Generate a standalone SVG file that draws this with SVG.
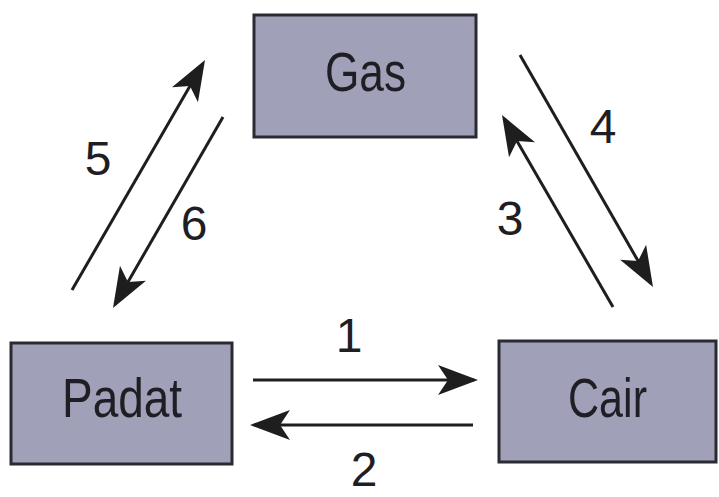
<svg xmlns="http://www.w3.org/2000/svg" width="719" height="497" viewBox="0 0 719 497">
<style>
.box{fill:#a0a0b8;stroke:#2a2a32;stroke-width:3}
.lbl{font-family:"Liberation Sans",Arial,sans-serif;font-size:56px;fill:#1e1e24}
.num{font-family:"Liberation Sans",Arial,sans-serif;font-size:48px;fill:#1e1e24;text-anchor:middle}
.arr{stroke:#1e1e1e;stroke-width:3;fill:none;marker-end:url(#ah)}
</style>
<defs>
<marker id="ah" viewBox="-40 -16 46 32" markerWidth="46" markerHeight="32" refX="0" refY="0" orient="auto" markerUnits="userSpaceOnUse">
<path d="M4,0 L-36,-15 L-26,0 L-36,15 Z" fill="#1e1e1e"/>
</marker>
</defs>
<rect width="719" height="497" fill="#ffffff"/>
<g id="gas">
<rect class="box" x="254" y="15" width="222" height="122"/>
<text class="lbl" x="325" y="91" textLength="81" lengthAdjust="spacingAndGlyphs">Gas</text>
</g>
<g id="padat">
<rect class="box" x="11" y="343" width="221" height="121"/>
<text class="lbl" x="62" y="417" textLength="120" lengthAdjust="spacingAndGlyphs">Padat</text>
</g>
<g id="cair">
<rect class="box" x="499" y="341" width="217" height="121"/>
<text class="lbl" x="568" y="417" textLength="79" lengthAdjust="spacingAndGlyphs">Cair</text>
</g>
<g id="connectors">
<line class="arr" x1="253" y1="380" x2="474" y2="380"/>
<line class="arr" x1="473" y1="425" x2="254" y2="425"/>
<line class="arr" x1="613" y1="307" x2="504" y2="118.5"/>
<line class="arr" x1="520" y1="55" x2="651" y2="283.5"/>
<line class="arr" x1="72" y1="290" x2="203" y2="63.5"/>
<line class="arr" x1="223" y1="117" x2="115" y2="304.5"/>
<text class="num" x="349" y="352">1</text>
<text class="num" x="364" y="486">2</text>
<text class="num" x="510" y="235">3</text>
<text class="num" x="603" y="143">4</text>
<text class="num" x="98" y="175">5</text>
<text class="num" x="194" y="240">6</text>
</g>
</svg>
